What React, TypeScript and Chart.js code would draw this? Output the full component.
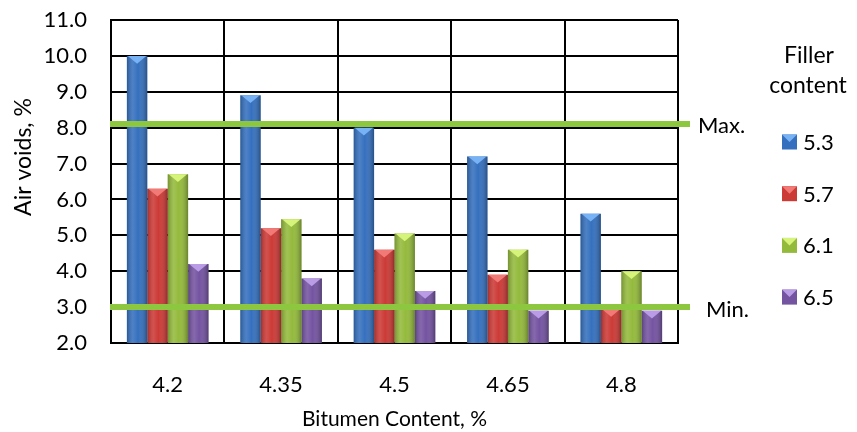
import React, { useEffect, useRef } from "react";
import { Chart, registerables } from "chart.js";

Chart.register(...registerables);

const categories = ["4.2", "4.35", "4.5", "4.65", "4.8"];
const seriesLabels = ["5.3", "5.7", "6.1", "6.5"];
const filler53 = [10.0, 8.9, 8.0, 7.2, 5.6];
const filler57 = [6.3, 5.2, 4.6, 3.9, 2.95];
const filler61 = [6.7, 5.45, 5.05, 4.6, 4.0];
const filler65 = [4.2, 3.8, 3.45, 2.9, 2.9];
const limitMax = 8.1;
const limitMin = 3.0;
const limitLabels = ["Max.", "Min."];
const legendTitle = ["Filler", "content"];
const yAxisTitle = "Air voids, %";
const xAxisTitle = "Bitumen Content, %";
const yMin = 2;
const yMax = 11;

const baseColors = ["#3570BE", "#CC3A36", "#94BA3C", "#7453A1"];
const topColors = ["#77B2F5", "#F27A76", "#D6F37A", "#B99BE6"];
const FONT = "Lato, 'Open Sans', sans-serif";

const decorPlugin = {
  id: "decor",
  afterDatasetsDraw(chart: any) {
    const { ctx, chartArea, scales } = chart;
    chart.data.datasets.forEach((ds: any, di: number) => {
      const meta = chart.getDatasetMeta(di);
      meta.data.forEach((el: any) => {
        const w = el.width;
        const l = el.x - w / 2;
        const r = el.x + w / 2;
        const top = Math.max(el.y, chartArea.top);
        const bot = Math.min(el.base, chartArea.bottom);
        if (bot <= top) return;
        ctx.save();
        const g = ctx.createLinearGradient(l, 0, r, 0);
        g.addColorStop(0, "rgba(0,0,0,0.22)");
        g.addColorStop(0.3, "rgba(255,255,255,0.12)");
        g.addColorStop(0.55, "rgba(255,255,255,0.0)");
        g.addColorStop(1, "rgba(0,0,0,0.3)");
        ctx.fillStyle = g;
        ctx.fillRect(l, top, w, bot - top);
        ctx.beginPath();
        ctx.moveTo(l + 1, top);
        ctx.lineTo(r - 1, top);
        ctx.lineTo(el.x, top + w * 0.38);
        ctx.closePath();
        ctx.fillStyle = topColors[di];
        ctx.fill();
        ctx.restore();
      });
    });
    const y = scales.y;
    ctx.save();
    ctx.strokeStyle = "#8DC63F";
    ctx.lineWidth = 6;
    [limitMax, limitMin].forEach((v) => {
      const py = y.getPixelForValue(v);
      ctx.beginPath();
      ctx.moveTo(chartArea.left - 1, py);
      ctx.lineTo(chartArea.right + 12, py);
      ctx.stroke();
    });
    ctx.fillStyle = "#000";
    ctx.textBaseline = "alphabetic";
    ctx.textAlign = "left";
    ctx.font = `22px ${FONT}`;
    ctx.fillText(limitLabels[0], chartArea.right + 20, y.getPixelForValue(limitMax) + 9);
    ctx.fillText(limitLabels[1], chartArea.right + 28, y.getPixelForValue(limitMin) + 10);
    // legend
    ctx.font = `23px ${FONT}`;
    ctx.textAlign = "center";
    ctx.fillText(legendTitle[0], 809, 63);
    ctx.fillText(legendTitle[1], 808, 93);
    ctx.textAlign = "left";
    ctx.font = `22px ${FONT}`;
    chart.data.datasets.forEach((ds: any, di: number) => {
      const cy = 142 + di * 51.7;
      const sx = 782;
      const s = 15;
      ctx.fillStyle = baseColors[di];
      ctx.fillRect(sx, cy - s / 2, s, s);
      ctx.beginPath();
      ctx.moveTo(sx, cy - s / 2);
      ctx.lineTo(sx + s, cy - s / 2);
      ctx.lineTo(sx + s / 2, cy);
      ctx.closePath();
      ctx.fillStyle = topColors[di];
      ctx.fill();
      ctx.fillStyle = "#000";
      ctx.fillText(ds.label, 803, cy + 8);
    });
    // y axis title
    ctx.save();
    ctx.font = `23px ${FONT}`;
    ctx.translate(31, 157);
    ctx.rotate(-Math.PI / 2);
    ctx.textAlign = "center";
    ctx.fillText(yAxisTitle, 0, 0);
    ctx.restore();
    ctx.restore();
  },
};

export default function App() {
  const ref = useRef<HTMLCanvasElement>(null);
  useEffect(() => {
    if (!ref.current) return;
    const series = [filler53, filler57, filler61, filler65];
    const chart = new Chart(ref.current, {
      type: "bar",
      data: {
        labels: categories,
        datasets: series.map((d, i) => ({
          label: seriesLabels[i],
          data: d,
          backgroundColor: baseColors[i],
          borderWidth: 0,
          categoryPercentage: 0.72,
          barPercentage: 1,
        })),
      },
      options: {
        animation: false,
        responsive: true,
        maintainAspectRatio: false,
        layout: { padding: { top: 20, right: 179, left: 0, bottom: 0 } },
        plugins: { legend: { display: false }, tooltip: { enabled: false } },
        scales: {
          x: {
            afterFit: (s: any) => { s.height = 89; },
            grid: { color: "#000", lineWidth: 2, drawTicks: false, offset: true },
            border: { color: "#000", width: 2 },
            ticks: { color: "#000", font: { family: FONT, size: 22 }, padding: 29 },
            title: {
              display: true,
              text: xAxisTitle,
              color: "#000",
              font: { family: FONT, size: 21 },
              padding: { top: 4, bottom: 0 },
            },
          },
          y: {
            min: yMin,
            max: yMax,
            afterFit: (s: any) => {
              s.width = 111;
              s.paddingTop = 0;
              s.paddingBottom = 0;
            },
            grid: { color: "#000", lineWidth: 2, drawTicks: false },
            border: { color: "#000", width: 2 },
            ticks: {
              stepSize: 1,
              color: "#000",
              font: { family: FONT, size: 22 },
              padding: 24,
              callback: (v: any) => Number(v).toFixed(1),
            },
          },
        },
      },
      plugins: [decorPlugin],
    });
    return () => chart.destroy();
  }, []);
  return (
    <div style={{ position: "absolute", left: 0, top: 0, width: 857, height: 432, background: "#fff" }}>
      <canvas ref={ref} />
    </div>
  );
}
